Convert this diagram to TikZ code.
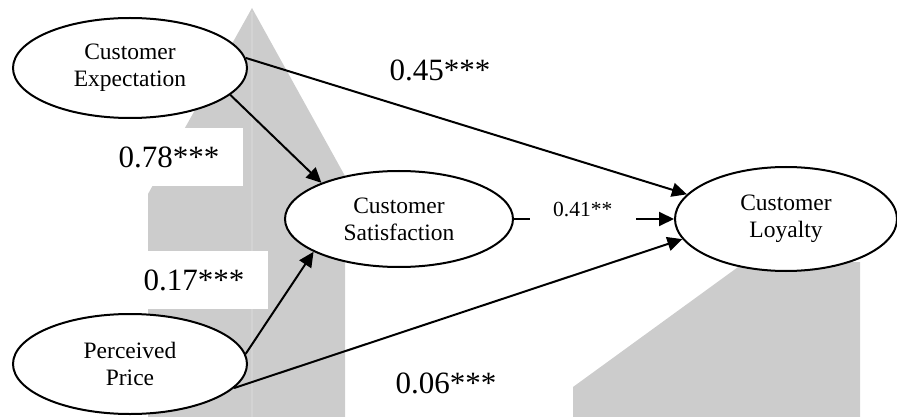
\documentclass[tikz,border=0pt]{standalone}
\usepackage{fontspec}
\setmainfont{Liberation Serif}
\usetikzlibrary{shapes.geometric,arrows.meta}
\definecolor{wm}{HTML}{CCCCCC}
\definecolor{wmseam}{HTML}{D3D3D3}
\begin{document}
\begin{tikzpicture}[x=1pt,y=-1pt,
  construct/.style={ellipse,draw,line width=2pt,fill=white,minimum width=234pt,minimum height=100pt,inner sep=0pt,align=center,font=\fontsize{23.5}{27}\selectfont},
  link/.style={line width=2pt,-{Triangle[length=15pt,width=14pt]}},
  coef/.style={font=\fontsize{31}{34}\selectfont,inner sep=0pt},
  coefbox/.style={coef,fill=white,minimum width=148pt,minimum height=57pt}]
\useasboundingbox (0,0) rectangle (897,417);
% watermark
\fill[wm] (252,8) -- (345,176) -- (345,417) -- (148,417) -- (148,194) -- cycle;
\draw[wmseam,line width=1.2pt] (252,12) -- (252,417);
\fill[wm] (573,417) -- (573,387) -- (745,262) -- (860,262) -- (860,417) -- cycle;
% coefficient labels
\node[coefbox] (l78) at (169,157) {0.78***};
\node[coefbox,minimum height=58pt] (l17) at (194,280) {0.17***};
\node[coef] (l45) at (440,70) {0.45***};
\node[coef] (l06) at (446,383) {0.06***};
% constructs
\node[construct] (exp) at (130,68) {Customer\\Expectation};
\node[construct] (price) at (130,364) {Perceived\\Price};
\node[construct,minimum width=228pt,minimum height=96pt] (sat) at (399,219) {Customer\\Satisfaction};
\node[construct,minimum width=222pt,minimum height=104pt] (loy) at (786,219) {Customer\\Loyalty};
% paths
\draw[link] (exp.-15) -- (sat.155);
\draw[link] (exp.5) -- (loy.166);
\draw[link] (price.5) -- (sat.201);
\draw[link] (price.-13) -- (loy.191);
\draw[link] (sat.east) -- node[pos=0.43,yshift=9pt,fill=white,inner sep=0pt,minimum width=106pt,minimum height=28pt,font=\fontsize{21.5}{24}\selectfont] (l41) {0.41**} (loy.west);
\end{tikzpicture}
\end{document}
